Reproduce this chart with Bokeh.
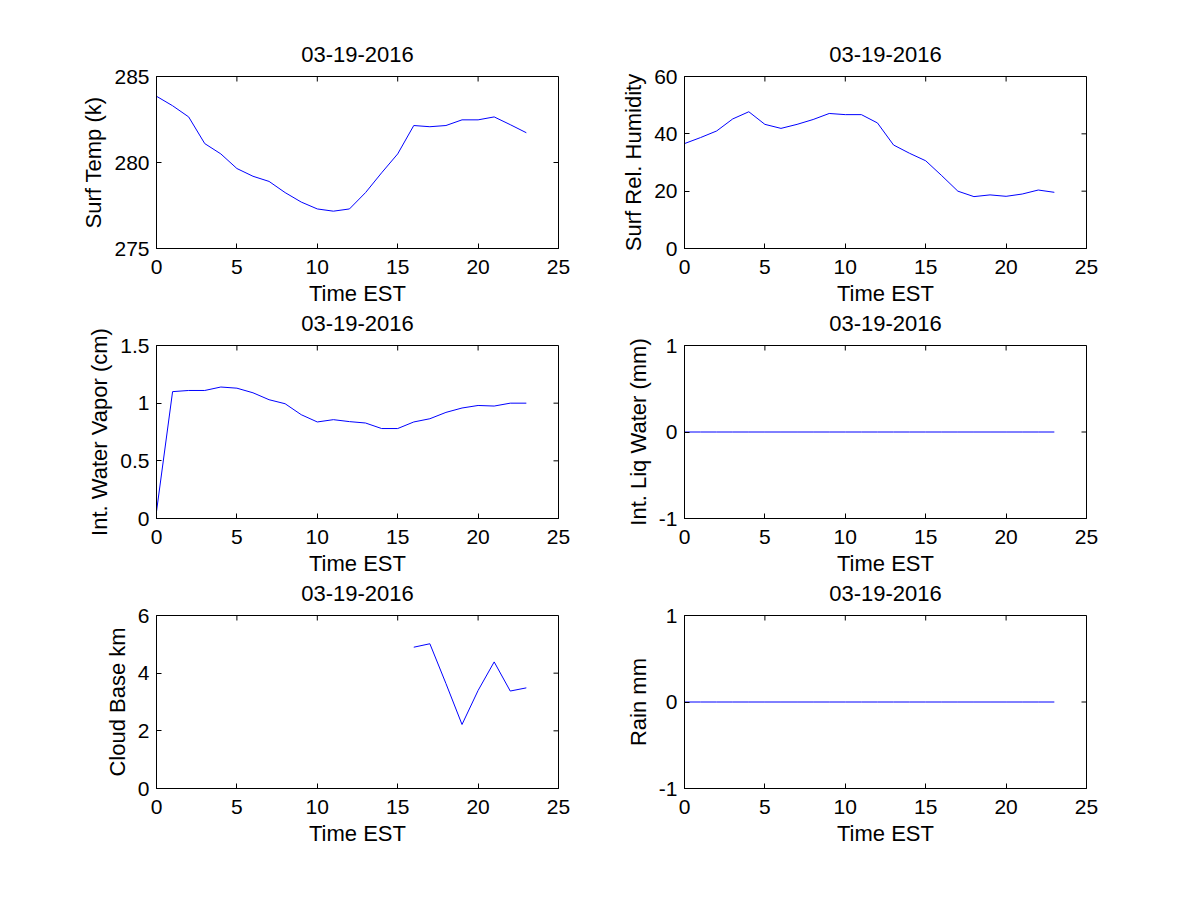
import math
from bokeh.plotting import figure
from bokeh.layouts import column, row
from bokeh.models import Range1d, FixedTicker, NumeralTickFormatter
from bokeh.embed import file_html
from bokeh.resources import INLINE

NaN = float("nan")
hours = list(range(24))
surf_temp = [283.85, 283.3, 282.65, 281.1, 280.5, 279.65, 279.2, 278.9, 278.25, 277.7,
             277.3, 277.17, 277.3, 278.25, 279.4, 280.5, 282.15, 282.08, 282.15, 282.48,
             282.48, 282.65, 282.2, 281.73]
surf_rh = [36.6, 38.7, 41.0, 45.2, 47.7, 43.3, 41.9, 43.3, 45.0, 47.1,
           46.7, 46.7, 43.8, 36.1, 33.2, 30.6, 25.4, 20.0, 18.1, 18.7,
           18.2, 19.0, 20.4, 19.6]
water_vapor = [0.06, 1.10, 1.11, 1.11, 1.14, 1.13, 1.09, 1.03, 0.995, 0.90,
               0.837, 0.857, 0.84, 0.828, 0.78, 0.78, 0.837, 0.865, 0.92, 0.958,
               0.98, 0.975, 1.0, 1.0]
liq_water = [0.0] * 24
cloud_base = [NaN] * 16 + [4.9, 5.02, 3.64, 2.22, 3.4, 4.39, 3.38, 3.49]
rain = [0.0] * 24

title_text = "03-19-2016"
x_label = "Time EST"
x_ticks = [0, 5, 10, 15, 20, 25]
x_lim = (0, 25)

panels = [
    (surf_temp, "Surf Temp (k)", (275, 285), [275, 280, 285]),
    (surf_rh, "Surf Rel. Humidity", (0, 60), [0, 20, 40, 60]),
    (water_vapor, "Int. Water Vapor (cm)", (0, 1.5), [0, 0.5, 1, 1.5]),
    (liq_water, "Int. Liq Water (mm)", (-1, 1), [-1, 0, 1]),
    (cloud_base, "Cloud Base km", (0, 6), [0, 2, 4, 6]),
    (rain, "Rain mm", (-1, 1), [-1, 0, 1]),
]

FONT = "Liberation Sans"
FS = "21px"
FS_LABEL = "22px"

# (height, top border, bottom border) per row; rows 2 and 3 overlap the row above
row_heights = [(308, 76, 59), (292, 59, 59), (292, 59, 59)]
row_overlap = [0, -22, -22]
col_specs = [(600, 156, 42), (592, 84, 106)]


def make(i):
    vals, ylab, yr, yt = panels[i]
    r, c = divmod(i, 2)
    h, bt, bb = row_heights[r]
    w, bl, br = col_specs[c]
    p = figure(width=w, height=h, output_backend="svg", toolbar_location=None,
               x_range=Range1d(*x_lim), y_range=Range1d(*yr),
               min_border_left=bl, min_border_right=br,
               min_border_top=bt, min_border_bottom=bb,
               x_axis_label=x_label, y_axis_label=ylab, title=title_text)
    p.line(hours, vals, line_color="#0000ff", line_width=1)
    # inward ticks on the top and right edges of the box
    p.ray(x=x_ticks, y=[yr[1]] * len(x_ticks), length=5, length_units="screen",
          angle=-math.pi / 2, line_color="black", line_width=1)
    p.ray(x=[x_lim[1]] * len(yt), y=yt, length=5, length_units="screen",
          angle=math.pi, line_color="black", line_width=1)
    p.grid.visible = False
    p.outline_line_color = "black"
    p.outline_line_alpha = 1
    p.background_fill_color = "white"
    p.border_fill_color = None
    p.title.text_font = FONT
    p.title.text_font_size = FS_LABEL
    p.title.text_font_style = "normal"
    p.title.text_color = "black"
    p.title.align = "center"
    p.title.standoff = 30
    for ax, ticks in ((p.xaxis[0], x_ticks), (p.yaxis[0], yt)):
        ax.ticker = FixedTicker(ticks=ticks)
        ax.major_tick_in = 5
        ax.major_tick_out = 0
        ax.minor_tick_line_color = None
        ax.axis_line_color = "black"
        ax.major_tick_line_color = "black"
        ax.major_label_text_font = FONT
        ax.major_label_text_font_size = FS
        ax.major_label_text_color = "black"
        ax.axis_label_text_font = FONT
        ax.axis_label_text_font_size = FS_LABEL
        ax.axis_label_text_font_style = "normal"
        ax.axis_label_text_color = "black"
    p.xaxis[0].major_label_standoff = 11
    p.xaxis[0].axis_label_standoff = 4
    p.yaxis[0].major_label_standoff = 7
    p.yaxis[0].axis_label_standoff = 5
    p.yaxis[0].formatter = NumeralTickFormatter(format="0.[0]")
    return p


figs = [make(i) for i in range(6)]
rows = [row(figs[2 * k], figs[2 * k + 1], margin=(row_overlap[k], 0, 0, 0)) for k in range(3)]
layout = column(*rows)
open("out.html", "w").write(file_html(layout, INLINE))
